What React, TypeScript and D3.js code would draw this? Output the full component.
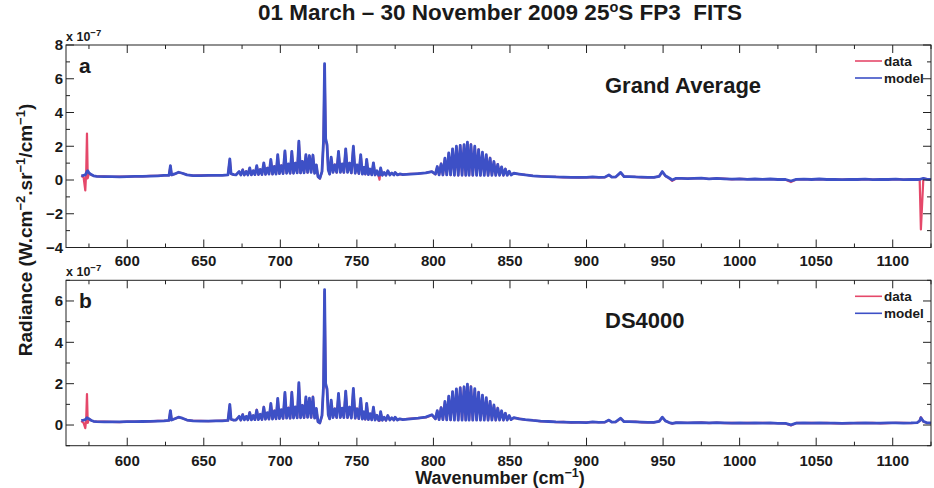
import React from "react";
import * as d3 from "d3";

// Shared spectral grid (cm^-1) for both averages
const wavenumber = [
  570, 571.5, 572.6, 573.2, 573.7, 574.2, 575, 576.5, 578, 580,
  585, 590, 595, 600, 605, 610, 615, 620, 624, 627.3, 628.2, 629, 631, 633.5, 636, 639, 643, 648, 653, 658, 662, 665.8,
  667, 667.8, 669.5,
  671.0, 673.1, 674.2, 675.4, 676.5, 677.7, 678.8, 680.0, 681.1, 682.3,
  683.4, 684.6, 685.7, 686.9, 688.0, 689.2, 690.3, 691.5, 692.6, 693.8,
  694.9, 696.1, 697.2, 698.3, 699.4, 700.6, 701.8, 703.0, 704.1, 705.3,
  706.4, 707.5, 708.6, 709.8, 711.0, 712.1, 713.2, 714.4, 715.5, 716.7,
  717.8, 719.0, 720.1, 721.3, 722.4, 723.5, 724.6,
  725.8, 727.2, 728.2, 728.9, 729.6, 730.5, 731.3, 732.2,
  733.2, 734.4, 735.6, 736.8, 738.0, 739.2, 740.4, 741.5, 742.7, 743.9,
  745.2, 746.4, 747.7, 748.9, 750.1, 751.3, 752.5, 753.6, 754.6, 755.5,
  756.4, 757.5, 758.6, 759.7, 760.8, 761.9, 763.1, 764.2, 764.8, 765.5,
  766.6, 767.8, 769.0, 770.2, 771.5, 772.8, 774.2, 775.0, 776.5, 778,
  780, 785, 790, 795, 799,
  801.3, 802.5, 803.7, 805, 806.2, 807.5, 808.7, 810, 811.2, 812.5,
  813.7, 815, 816.2, 817.5, 818.7, 820, 821.1, 822.2, 823.3, 824.5,
  825.7, 827, 828.2, 829.5, 830.7, 832, 833.2, 834.5, 835.7, 837,
  838.2, 839.5, 840.7, 842, 843.2, 844.5, 845.7, 847, 848.2, 849.5,
  850.7,
  852.5, 856, 860, 865, 870, 875, 880, 885, 890, 895,
  900, 904, 908, 912, 914.6, 916.5, 919, 922.3, 924.5, 928,
  932, 936, 940, 944, 947.5, 949.5, 951.5, 954, 956, 958.5,
  962, 966, 970, 975, 980, 985, 990, 995, 1000, 1005,
  1010, 1015, 1020, 1025, 1030, 1033.5, 1037, 1042, 1047, 1052,
  1057, 1062, 1067, 1072, 1077, 1082, 1087, 1092, 1097, 1102,
  1107, 1112, 1116, 1117.6, 1118.4, 1120, 1122.5, 1125,
];

// Grand Average radiance (x 10^-7 W.cm-2.sr-1/cm-1)
const dataGrand = [
  0.25, 0.15, -0.62, 0.5, 2.75, 0.1, 0.4, 0.3, 0.25, 0.22,
  0.21, 0.19, 0.2, 0.2, 0.22, 0.21, 0.24, 0.24, 0.27, 0.29, 0.82, 0.29, 0.36, 0.45, 0.4, 0.31, 0.26, 0.27, 0.27, 0.28, 0.29, 0.3,
  1.2, 0.36, 0.32,
  0.31, 0.48, 0.3, 0.62, 0.29, 0.52, 0.31, 0.7, 0.3, 0.56,
  0.33, 0.83, 0.31, 0.64, 0.33, 1.0, 0.33, 0.72, 0.36, 1.2,
  0.34, 0.82, 0.36, 1.48, 0.37, 0.87, 0.39, 1.7, 0.41, 0.93,
  0.39, 1.68, 0.41, 1.02, 0.43, 2.25, 0.41, 1.12, 0.43, 1.48,
  0.44, 1.43, 0.46, 1.46, 0.41, 0.88, 0.19,
  0.08, 0.48, 2.25, 6.8, 2.4, 2.05, 0.62, 0.34,
  1.32, 0.46, 0.92, 0.44, 1.68, 0.46, 0.93, 0.44, 1.83, 0.46,
  1.02, 0.41, 1.97, 0.41, 0.88, 0.37, 1.47, 0.36, 0.77, 0.34,
  1.2, 0.33, 0.63, 0.31, 1.0, 0.29, 0.53, 0.22, 0.02, 0.68,
  0.29, 0.44, 0.29, 0.53, 0.31, 0.41, 0.3, 0.44, 0.31, 0.35,
  0.33, 0.36, 0.38, 0.43, 0.5,
  0.34, 0.78, 0.31, 0.97, 0.29, 1.28, 0.31, 1.58, 0.29, 1.83,
  0.29, 1.98, 0.27, 2.07, 0.29, 2.08, 0.27, 2.22, 0.29, 2.12,
  0.27, 1.97, 0.29, 1.82, 0.27, 1.63, 0.29, 1.48, 0.27, 1.32,
  0.29, 1.08, 0.27, 0.94, 0.29, 0.76, 0.27, 0.66, 0.29, 0.5,
  0.3,
  0.41, 0.34, 0.31, 0.24, 0.23, 0.19, 0.18, 0.16, 0.16, 0.14,
  0.16, 0.17, 0.16, 0.16, 0.29, 0.18, 0.17, 0.43, 0.21, 0.19,
  0.18, 0.16, 0.16, 0.15, 0.23, 0.48, 0.24, 0.1, -0.05, 0.09,
  0.1, 0.09, 0.09, 0.12, 0.06, 0.1, 0.08, 0.04, 0.07, 0.05,
  0.05, 0.05, 0.05, 0.03, 0.02, -0.12, 0.03, 0.05, 0.04, 0.05,
  0.04, 0.03, 0.03, 0.04, 0.02, 0.05, 0.03, 0.03, 0.04, 0.04,
  0.03, 0.02, 0.02, 0.03, -2.93, 0.08, 0.05, 0.02,
];

const modelGrand = [
  0.25, 0.28, 0.3, 0.4, 0.5, 0.55, 0.42, 0.32, 0.25, 0.22,
  0.2, 0.2, 0.19, 0.2, 0.21, 0.22, 0.23, 0.25, 0.27, 0.28, 0.85, 0.3, 0.36, 0.46, 0.4, 0.3, 0.26, 0.26, 0.27, 0.28, 0.28, 0.3,
  1.25, 0.38, 0.32,
  0.3, 0.5, 0.3, 0.6, 0.3, 0.5, 0.3, 0.72, 0.3, 0.55,
  0.32, 0.85, 0.32, 0.62, 0.32, 1.02, 0.34, 0.7, 0.35, 1.22,
  0.35, 0.8, 0.35, 1.5, 0.38, 0.85, 0.38, 1.72, 0.4, 0.95,
  0.4, 1.7, 0.4, 1.0, 0.42, 2.3, 0.42, 1.1, 0.42, 1.5,
  0.45, 1.45, 0.45, 1.48, 0.4, 0.9, 0.2,
  0.1, 0.5, 2.3, 6.9, 2.45, 2.1, 0.6, 0.35,
  1.35, 0.45, 0.9, 0.45, 1.7, 0.45, 0.95, 0.45, 1.85, 0.45,
  1.0, 0.42, 2.0, 0.4, 0.9, 0.38, 1.5, 0.35, 0.75, 0.35,
  1.22, 0.32, 0.65, 0.3, 1.02, 0.3, 0.55, 0.28, 0.3, 0.72,
  0.28, 0.45, 0.28, 0.55, 0.3, 0.42, 0.3, 0.45, 0.3, 0.36,
  0.32, 0.35, 0.38, 0.42, 0.5,
  0.35, 0.8, 0.3, 0.95, 0.3, 1.3, 0.3, 1.6, 0.3, 1.85,
  0.28, 2.0, 0.28, 2.05, 0.28, 2.1, 0.28, 2.25, 0.28, 2.1,
  0.28, 2.0, 0.28, 1.8, 0.28, 1.65, 0.28, 1.5, 0.28, 1.3,
  0.28, 1.1, 0.28, 0.92, 0.28, 0.78, 0.28, 0.65, 0.28, 0.52,
  0.3,
  0.4, 0.35, 0.3, 0.25, 0.22, 0.2, 0.18, 0.17, 0.16, 0.15,
  0.15, 0.18, 0.15, 0.17, 0.3, 0.17, 0.18, 0.45, 0.2, 0.2,
  0.18, 0.17, 0.15, 0.16, 0.22, 0.5, 0.25, 0.12, 0.0, 0.1,
  0.1, 0.08, 0.1, 0.11, 0.07, 0.1, 0.07, 0.05, 0.07, 0.04,
  0.06, 0.04, 0.06, 0.03, 0.03, -0.06, 0.04, 0.05, 0.03, 0.06,
  0.03, 0.04, 0.02, 0.04, 0.03, 0.05, 0.02, 0.04, 0.03, 0.05,
  0.02, 0.03, 0.03, 0.04, 0.06, 0.1, 0.04, 0.03,
];

// DS4000 radiance (x 10^-7 W.cm-2.sr-1/cm-1)
const dataDS = [
  0.2, 0.1, -0.15, 0.3, 1.5, 0.1, 0.3, 0.22, 0.18, 0.16,
  0.16, 0.15, 0.14, 0.16, 0.17, 0.17, 0.18, 0.2, 0.2, 0.22, 0.68, 0.25, 0.3, 0.37, 0.33, 0.24, 0.2, 0.2, 0.19, 0.2, 0.21, 0.22,
  0.97, 0.27, 0.24,
  0.25, 0.4, 0.23, 0.52, 0.26, 0.41, 0.24, 0.62, 0.26, 0.45,
  0.25, 0.74, 0.27, 0.5, 0.26, 0.88, 0.29, 0.58, 0.28, 1.03,
  0.3, 0.7, 0.29, 1.27, 0.32, 0.72, 0.31, 1.55, 0.34, 0.84,
  0.32, 1.6, 0.35, 0.86, 0.34, 2.0, 0.36, 0.97, 0.35, 1.33,
  0.38, 1.28, 0.36, 1.37, 0.34, 0.78, 0.15,
  0.09, 0.44, 1.85, 6.45, 1.95, 1.72, 0.52, 0.3,
  1.18, 0.37, 0.8, 0.35, 1.5, 0.37, 0.8, 0.37, 1.62, 0.35,
  0.88, 0.35, 1.74, 0.32, 0.8, 0.3, 1.27, 0.3, 0.62, 0.27,
  1.03, 0.27, 0.53, 0.24, 0.84, 0.25, 0.45, 0.22, 0.2, 0.62,
  0.24, 0.37, 0.22, 0.45, 0.25, 0.34, 0.23, 0.37, 0.25, 0.29,
  0.27, 0.31, 0.33, 0.37, 0.48,
  0.29, 0.68, 0.27, 0.86, 0.25, 1.12, 0.26, 1.38, 0.24, 1.6,
  0.25, 1.73, 0.23, 1.82, 0.25, 1.83, 0.23, 1.95, 0.25, 1.87,
  0.23, 1.73, 0.25, 1.6, 0.23, 1.43, 0.25, 1.3, 0.23, 1.16,
  0.25, 0.95, 0.23, 0.83, 0.25, 0.67, 0.23, 0.58, 0.25, 0.44,
  0.26,
  0.35, 0.31, 0.25, 0.23, 0.18, 0.18, 0.14, 0.15, 0.12, 0.13,
  0.13, 0.14, 0.14, 0.13, 0.23, 0.15, 0.14, 0.31, 0.17, 0.15,
  0.16, 0.13, 0.14, 0.12, 0.19, 0.36, 0.21, 0.11, 0.06, 0.12,
  0.1, 0.11, 0.1, 0.13, 0.09, 0.12, 0.09, 0.1, 0.09, 0.1,
  0.09, 0.1, 0.09, 0.09, 0.07, -0.02, 0.1, 0.09, 0.1, 0.09,
  0.1, 0.08, 0.09, 0.08, 0.1, 0.09, 0.1, 0.08, 0.09, 0.11,
  0.1, 0.09, 0.11, 0.22, 0.38, 0.16, 0.11, 0.09,
];

const modelDS = [
  0.22, 0.24, 0.26, 0.3, 0.35, 0.33, 0.3, 0.22, 0.18, 0.16,
  0.15, 0.15, 0.15, 0.16, 0.16, 0.17, 0.18, 0.19, 0.2, 0.22, 0.7, 0.24, 0.3, 0.38, 0.33, 0.24, 0.2, 0.19, 0.19, 0.2, 0.2, 0.22,
  1.0, 0.28, 0.24,
  0.24, 0.42, 0.24, 0.5, 0.25, 0.42, 0.25, 0.6, 0.25, 0.46,
  0.26, 0.72, 0.26, 0.52, 0.27, 0.86, 0.28, 0.6, 0.29, 1.05,
  0.29, 0.68, 0.3, 1.29, 0.31, 0.74, 0.32, 1.58, 0.33, 0.82,
  0.33, 1.58, 0.34, 0.88, 0.35, 2.05, 0.35, 0.95, 0.36, 1.36,
  0.37, 1.3, 0.37, 1.35, 0.33, 0.8, 0.16,
  0.1, 0.45, 1.9, 6.55, 2.0, 1.75, 0.5, 0.3,
  1.2, 0.36, 0.78, 0.36, 1.53, 0.36, 0.82, 0.36, 1.64, 0.36,
  0.86, 0.34, 1.77, 0.33, 0.78, 0.31, 1.29, 0.29, 0.64, 0.28,
  1.05, 0.26, 0.55, 0.25, 0.86, 0.24, 0.47, 0.23, 0.24, 0.65,
  0.23, 0.38, 0.23, 0.46, 0.24, 0.35, 0.24, 0.38, 0.24, 0.3,
  0.26, 0.3, 0.33, 0.38, 0.5,
  0.3, 0.7, 0.26, 0.84, 0.26, 1.14, 0.25, 1.4, 0.25, 1.62,
  0.24, 1.75, 0.24, 1.8, 0.24, 1.85, 0.24, 1.98, 0.24, 1.85,
  0.24, 1.76, 0.24, 1.58, 0.24, 1.45, 0.24, 1.32, 0.24, 1.14,
  0.24, 0.97, 0.24, 0.81, 0.24, 0.69, 0.24, 0.57, 0.24, 0.46,
  0.26,
  0.36, 0.3, 0.26, 0.22, 0.19, 0.17, 0.15, 0.14, 0.13, 0.13,
  0.12, 0.15, 0.13, 0.14, 0.24, 0.14, 0.15, 0.33, 0.16, 0.16,
  0.15, 0.14, 0.13, 0.13, 0.18, 0.38, 0.2, 0.12, 0.08, 0.11,
  0.11, 0.1, 0.11, 0.12, 0.1, 0.11, 0.1, 0.09, 0.1, 0.09,
  0.1, 0.09, 0.1, 0.08, 0.08, 0.01, 0.09, 0.1, 0.09, 0.1,
  0.09, 0.09, 0.08, 0.09, 0.09, 0.1, 0.09, 0.09, 0.1, 0.1,
  0.09, 0.1, 0.12, 0.2, 0.35, 0.18, 0.1, 0.1,
];

const xDomain = [560, 1125];
const xMajorTicks = [600, 650, 700, 750, 800, 850, 900, 950, 1000, 1050, 1100];
const xMinorTicks = [575, 625, 675, 725, 775, 825, 875, 925, 975, 1025, 1075, 1125];

const grandYTicks = [-4, -2, 0, 2, 4, 6, 8];
const grandYMinor = [-3, -1, 1, 3, 5, 7];
const dsYTicks = [0, 2, 4, 6];
const dsYMinor = [-1, 1, 3, 5, 7];

const legendLabels = ["data", "model"];

const FONT = "'Liberation Sans', Arial, Helvetica, sans-serif";
const RED = "#e5486a";
const BLUE = "#3d50c6";
const AXIS = "#222";
const INK = "#1a1a1a";

type PanelProps = {
  top: number;
  bottom: number;
  yDomain: [number, number];
  yTicks: number[];
  yMinor: number[];
  letter: string;
  caption: string;
  data: number[];
  model: number[];
  tickLabelY: number;
};

function Panel({ top, bottom, yDomain, yTicks, yMinor, letter, caption, data, model, tickLabelY }: PanelProps) {
  const x = d3.scaleLinear().domain(xDomain).range([66, 931]);
  const y = d3.scaleLinear().domain(yDomain).range([bottom, top]);
  const line = d3
    .line<number>()
    .defined((d, i) => d != null && wavenumber[i] != null)
    .x((_, i) => x(wavenumber[i]))
    .y((d) => y(d));
  const [x0, x1] = x.range();
  const major = 8;
  const minor = 4;

  return (
    <g fontFamily={FONT} fontWeight="bold" fill={INK}>
      <path d={line(data) ?? ""} fill="none" stroke={RED} strokeWidth={2.2} strokeLinejoin="round" />
      <path d={line(model) ?? ""} fill="none" stroke={BLUE} strokeWidth={2.8} strokeLinejoin="round" />

      <rect x={x0} y={top} width={x1 - x0} height={bottom - top} fill="none" stroke={AXIS} strokeWidth={1} />

      {xMajorTicks.map((t) => (
        <g key={`xm${t}`} stroke={AXIS} strokeWidth={1}>
          <line x1={x(t)} x2={x(t)} y1={bottom} y2={bottom - major} />
          <line x1={x(t)} x2={x(t)} y1={top} y2={top + major} />
        </g>
      ))}
      {xMinorTicks.map((t) => (
        <g key={`xn${t}`} stroke={AXIS} strokeWidth={1}>
          <line x1={x(t)} x2={x(t)} y1={bottom} y2={bottom - minor} />
          <line x1={x(t)} x2={x(t)} y1={top} y2={top + minor} />
        </g>
      ))}
      {yTicks.map((t) => (
        <g key={`ym${t}`} stroke={AXIS} strokeWidth={1}>
          <line x1={x0} x2={x0 + major} y1={y(t)} y2={y(t)} />
          <line x1={x1} x2={x1 - major} y1={y(t)} y2={y(t)} />
        </g>
      ))}
      {yMinor.map((t) => (
        <g key={`yn${t}`} stroke={AXIS} strokeWidth={1}>
          <line x1={x0} x2={x0 + minor} y1={y(t)} y2={y(t)} />
          <line x1={x1} x2={x1 - minor} y1={y(t)} y2={y(t)} />
        </g>
      ))}

      {xMajorTicks.map((t) => (
        <text key={`xl${t}`} x={x(t)} y={tickLabelY} textAnchor="middle" fontSize={15}>
          {t}
        </text>
      ))}
      {yTicks.map((t) => (
        <text key={`yl${t}`} x={x0 - 3} y={y(t)} dy="0.35em" textAnchor="end" fontSize={15}>
          {t < 0 ? `\u2212${Math.abs(t)}` : t}
        </text>
      ))}

      <text x={x0} y={top - 4} fontSize={12.5}>
        x 10<tspan dy={-5} fontSize={9.5}>−7</tspan>
      </text>

      <text x={x0 + 13} y={top + 28} fontSize={21}>
        {letter}
      </text>
      <text x={605} y={top + 48} fontSize={22}>
        {caption}
      </text>

      {legendLabels.map((lab, i) => (
        <g key={lab}>
          <line x1={855} x2={882} y1={top + 16 + i * 17} y2={top + 16 + i * 17} stroke={i === 0 ? RED : BLUE} strokeWidth={1.6} />
          <text x={884} y={top + 16 + i * 17} dy="0.35em" fontSize={13.5}>
            {lab}
          </text>
        </g>
      ))}
    </g>
  );
}

export default function App() {
  return (
    <svg
      width={934}
      height={488}
      viewBox="0 0 934 488"
      style={{ position: "absolute", left: 0, top: 0, background: "#fff" }}
    >
      <rect width={934} height={488} fill="#fff" />
      <text x={500} y={20} textAnchor="middle" fontFamily={FONT} fontWeight="bold" fontSize={22.5} fill={INK} style={{ whiteSpace: "pre" }}>
        01 March – 30 November 2009 25<tspan dy={-8} fontSize={14.5}>o</tspan>
        <tspan dy={8}>S FP3  FITS</tspan>
      </text>

      <Panel
        top={45}
        bottom={247.5}
        yDomain={[-4, 8]}
        yTicks={grandYTicks}
        yMinor={grandYMinor}
        letter="a"
        caption="Grand Average"
        data={dataGrand}
        model={modelGrand}
        tickLabelY={266}
      />
      <Panel
        top={280.3}
        bottom={445.7}
        yDomain={[-1, 7]}
        yTicks={dsYTicks}
        yMinor={dsYMinor}
        letter="b"
        caption="DS4000"
        data={dataDS}
        model={modelDS}
        tickLabelY={466}
      />

      <text
        transform="translate(32,230) rotate(-90)"
        textAnchor="middle"
        fontFamily={FONT}
        fontWeight="bold"
        fontSize={19}
        fill={INK}
      >
        Radiance (W.cm<tspan dy={-7} fontSize={13}>−2</tspan>
        <tspan dy={7}>.sr</tspan>
        <tspan dy={-7} fontSize={13}>−1</tspan>
        <tspan dy={7}>/cm</tspan>
        <tspan dy={-7} fontSize={13}>−1</tspan>
        <tspan dy={7}>)</tspan>
      </text>

      <text x={500} y={484} textAnchor="middle" fontFamily={FONT} fontWeight="bold" fontSize={18} fill={INK}>
        Wavenumber (cm<tspan dy={-7} fontSize={12.5}>−1</tspan>
        <tspan dy={7}>)</tspan>
      </text>
    </svg>
  );
}
